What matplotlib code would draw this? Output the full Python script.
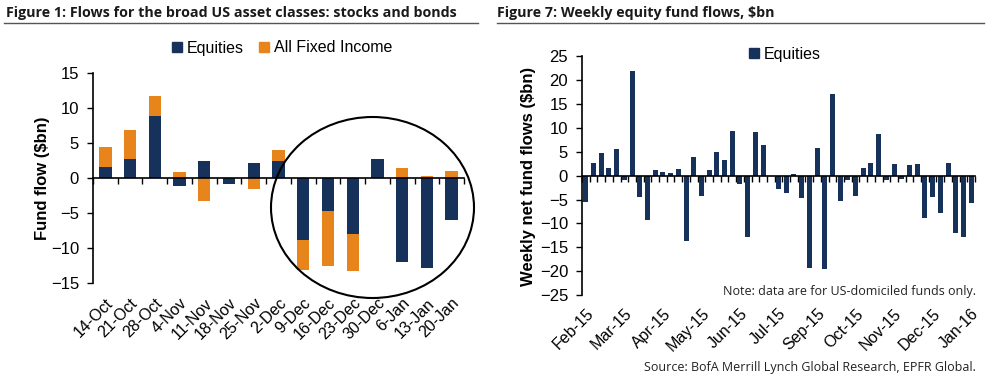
import matplotlib
matplotlib.use("Agg")
import matplotlib.pyplot as plt
from matplotlib.patches import Ellipse, Patch
from matplotlib.lines import Line2D
from matplotlib import font_manager as fm
import numpy as np

# ---------------- data ----------------
weeks_left = ["14-Oct", "21-Oct", "28-Oct", "4-Nov", "11-Nov", "18-Nov", "25-Nov", "2-Dec",
              "9-Dec", "16-Dec", "23-Dec", "30-Dec", "6-Jan", "13-Jan", "20-Jan"]
equities_left = [1.6, 2.75, 8.9, -1.1, 2.5, -0.85, 2.2, 2.5,
                 -8.85, -4.65, -8.0, 2.65, -11.95, -12.85, -5.95]
fixed_income_left = [2.8, 4.15, 2.85, 0.9, -3.3, 0.0, -1.5, 1.5,
                     -4.3, -7.85, -5.3, 0.0, 1.4, 0.3, 1.0]

equities_weekly = [-5.5, 2.7, 4.7, 1.6, 5.6, -0.9, 21.9, -4.4, -9.2, 1.2,
                   0.8, 0.6, 1.5, -13.6, 4.0, -4.2, 1.2, 4.9, 3.2, 9.4,
                   -1.8, -12.8, 9.1, 6.4, 0.0, -2.7, -3.7, 0.4, -4.7, -19.4,
                   5.8, -19.5, 17.2, -5.3, -0.8, -4.2, 1.6, 2.7, 8.8, -0.8,
                   2.4, -0.6, 2.2, 2.4, -8.9, -4.5, -7.9, 2.6, -12.0, -12.8,
                   -5.8]
month_labels = ["Feb-15", "Mar-15", "Apr-15", "May-15", "Jun-15", "Jul-15",
                "Sep-15", "Oct-15", "Nov-15", "Dec-15", "Jan-16"]
label_step = 5

# ---------------- style ----------------
NAVY = "#17325A"
ORANGE = "#E8841C"
avail = {f.name for f in fm.fontManager.ttflist}
narrow = "Liberation Sans Narrow" if "Liberation Sans Narrow" in avail else "Liberation Sans"
plt.rcParams["font.family"] = [narrow, "DejaVu Sans"]
title_font = ["Open Sans", "DejaVu Sans"]

W, H = 988, 384
fig = plt.figure(figsize=(W / 100, H / 100), dpi=100)

def fx(px):
    return px / W

def fy(py):
    return 1 - py / H

# ---------------- titles ----------------
fig.text(fx(6), fy(13), "Figure 1: Flows for the broad US asset classes: stocks and bonds",
         family=title_font, weight="bold", fontsize=10.3, va="center", ha="left", color="#1a1a1a")
fig.text(fx(497), fy(13), "Figure 7: Weekly equity fund flows, $bn",
         family=title_font, weight="bold", fontsize=10.3, va="center", ha="left", color="#1a1a1a")
fig.add_artist(Line2D([fx(4), fx(478)], [fy(23), fy(23)], color="#555555", lw=1))
fig.add_artist(Line2D([fx(497), fx(984)], [fy(23), fy(23)], color="#555555", lw=1))

def style_axes(ax, n, labels, positions, pad):
    for s in ["top", "right"]:
        ax.spines[s].set_visible(False)
    ax.spines["left"].set_linewidth(1.2)
    ax.spines["bottom"].set_position(("data", 0))
    ax.spines["bottom"].set_linewidth(1.2)
    ax.set_xlim(-0.5, n - 0.5)
    ax.set_xticks([])
    ax.set_xticks(np.arange(n + 1) - 0.5, minor=True)
    ax.tick_params(axis="x", which="minor", direction="out", length=4, width=1)
    ax.tick_params(axis="y", direction="out", length=4, width=1, labelsize=12, pad=6)
    sec = ax.secondary_xaxis(0.0)
    sec.spines["bottom"].set_visible(False)
    sec.set_xticks(positions)
    sec.set_xticklabels(labels, rotation=45, ha="right", rotation_mode="anchor", fontsize=11.5)
    sec.tick_params(length=0, pad=pad)

# ---------------- left chart ----------------
axL = fig.add_axes([fx(93), fy(283), fx(464) - fx(93), fy(73) - fy(283)])
xl = np.arange(len(weeks_left))
eqL = np.array(equities_left)
fiL = np.array(fixed_income_left)
bottom_fi = np.where(np.sign(fiL) == np.sign(eqL), eqL, 0.0)
axL.bar(xl, eqL, width=0.5, color=NAVY, zorder=2)
axL.bar(xl, fiL, width=0.5, bottom=bottom_fi, color=ORANGE, zorder=2)
axL.set_ylim(-15, 15)
axL.set_yticks(np.arange(-15, 16, 5))
style_axes(axL, len(weeks_left), weeks_left, xl, 9)
fig.text(fx(42), fy(178), "Fund flow ($bn)", rotation=90, ha="center", va="center",
         fontsize=12, weight="bold")
fig.legend(handles=[Patch(color=NAVY, label="Equities"), Patch(color=ORANGE, label="All Fixed Income")],
           loc="center", bbox_to_anchor=(fx(282), fy(48)), ncol=2, frameon=False,
           handlelength=0.6, handleheight=0.6, handletextpad=0.3, columnspacing=1.0, fontsize=11.5)
fig.add_artist(Ellipse((fx(372.5), fy(207.5)), fx(203), 181 / H, transform=fig.transFigure,
                       fill=False, edgecolor="black", lw=1.5, zorder=5))

# ---------------- right chart ----------------
axR = fig.add_axes([fx(582), fy(295), fx(975) - fx(582), fy(56.5) - fy(295)])
xr = np.arange(len(equities_weekly))
axR.bar(xr, equities_weekly, width=0.65, color=NAVY, zorder=2)
axR.set_ylim(-25, 25)
axR.set_yticks(np.arange(-25, 26, 5))
style_axes(axR, len(equities_weekly), month_labels, xr[::label_step], 8)
fig.text(fx(529), fy(176), "Weekly net fund flows ($bn)", rotation=90, ha="center", va="center",
         fontsize=12, weight="bold")
fig.legend(handles=[Patch(color=NAVY, label="Equities")],
           loc="center", bbox_to_anchor=(fx(785), fy(54)), ncol=1, frameon=False,
           handlelength=0.6, handleheight=0.6, handletextpad=0.3, fontsize=11.5)
fig.text(fx(976), fy(292), "Note: data are for US-domiciled funds only.", ha="right", va="center",
         fontsize=9, family=title_font, color="#222222")
fig.text(fx(976), fy(368), "Source: BofA Merrill Lynch Global Research, EPFR Global.", ha="right",
         va="center", fontsize=9, family=title_font, color="#222222")

fig.savefig("out.png", dpi=100)
